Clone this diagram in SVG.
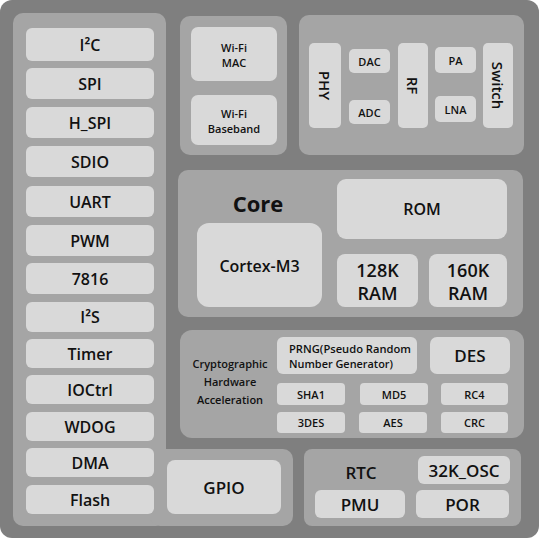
<svg xmlns="http://www.w3.org/2000/svg" width="539" height="538" viewBox="0 0 539 538">
<style>
.bg{fill:#7f7f7f}
.panel{fill:#a5a5a5}
.box{fill:#d9d9d9}
text{font-family:"Open Sans","Noto Sans",sans-serif;font-weight:600;fill:#111;text-anchor:middle;dominant-baseline:central}
.l{font-size:16px}
.m{font-size:11px}
.s{font-size:11px}
.xl{font-size:22px;font-weight:700}
.r{font-size:15px}
</style>
<rect class="bg" x="0" y="0" width="539" height="538" rx="12"/>
<g id="panels">
<rect class="panel" x="13" y="13" width="153" height="513" rx="10"/>
<rect class="panel" x="150" y="449" width="143" height="77" rx="10"/>
<rect class="panel" x="180" y="16" width="107" height="139" rx="10"/>
<rect class="panel" x="299" y="15" width="225" height="140" rx="10"/>
<rect class="panel" x="178" y="170" width="345" height="147" rx="10"/>
<rect class="panel" x="180" y="330" width="344" height="108" rx="12"/>
<rect class="panel" x="304" y="449" width="217" height="77" rx="8"/>
</g>
<g id="connectors"></g>
<g id="i2c"><rect class="box" x="26" y="28" width="128" height="33" rx="6"/><text class="l" x="90" y="44.5">I²C</text></g>
<g id="spi"><rect class="box" x="26" y="68" width="128" height="31" rx="6"/><text class="l" x="90" y="83.5">SPI</text></g>
<g id="hspi"><rect class="box" x="26" y="107" width="128" height="31" rx="6"/><text class="l" x="90" y="122.5">H_SPI</text></g>
<g id="sdio"><rect class="box" x="26" y="146" width="128" height="31" rx="6"/><text class="l" x="90" y="161.5">SDIO</text></g>
<g id="uart"><rect class="box" x="26" y="186" width="128" height="31" rx="6"/><text class="l" x="90" y="201.5">UART</text></g>
<g id="pwm"><rect class="box" x="26" y="225" width="128" height="31" rx="6"/><text class="l" x="90" y="240.5">PWM</text></g>
<g id="n7816"><rect class="box" x="26" y="263" width="128" height="31" rx="6"/><text class="l" x="90" y="278.5">7816</text></g>
<g id="i2s"><rect class="box" x="26" y="302" width="128" height="30" rx="6"/><text class="l" x="90" y="317">I²S</text></g>
<g id="timer"><rect class="box" x="26" y="339" width="128" height="29" rx="6"/><text class="l" x="90" y="353.5">Timer</text></g>
<g id="ioctrl"><rect class="box" x="26" y="375" width="128" height="29" rx="6"/><text class="l" x="90" y="389.5">IOCtrl</text></g>
<g id="wdog"><rect class="box" x="26" y="412" width="128" height="29" rx="6"/><text class="l" x="90" y="426.5">WDOG</text></g>
<g id="dma"><rect class="box" x="26" y="448" width="128" height="29" rx="6"/><text class="l" x="90" y="462.5">DMA</text></g>
<g id="flash"><rect class="box" x="26" y="485" width="128" height="29" rx="6"/><text class="l" x="90" y="499.5">Flash</text></g>

<g id="wifimac"><rect class="box" x="191" y="27" width="86" height="54" rx="7"/><text class="s" x="234" y="47">Wi-Fi</text><text class="s" x="234" y="62">MAC</text></g>
<g id="wifibb"><rect class="box" x="191" y="95" width="86" height="50" rx="7"/><text class="s" x="234" y="113">Wi-Fi</text><text class="s" x="234" y="128">Baseband</text></g>

<g id="phy"><rect class="box" x="309" y="43" width="32" height="85" rx="5"/><text class="r" transform="translate(325 85.5) rotate(90)">PHY</text></g>
<g id="dac"><rect class="box" x="349" y="49" width="41" height="24" rx="5"/><text class="s" x="369.5" y="61">DAC</text></g>
<g id="adc"><rect class="box" x="349" y="100" width="41" height="24" rx="5"/><text class="s" x="369.5" y="112">ADC</text></g>
<g id="rf"><rect class="box" x="398" y="43" width="30" height="85" rx="5"/><text class="r" transform="translate(413 85.5) rotate(90)">RF</text></g>
<g id="pa"><rect class="box" x="435" y="47" width="41" height="26" rx="5"/><text class="s" x="455.5" y="60">PA</text></g>
<g id="lna"><rect class="box" x="435" y="96" width="41" height="26" rx="5"/><text class="s" x="455.5" y="109">LNA</text></g>
<g id="switch"><rect class="box" x="483" y="43" width="30" height="85" rx="5"/><text class="r" transform="translate(498 85.5) rotate(90)">Switch</text></g>

<g id="core"><text class="xl" x="258" y="203">Core</text></g>
<g id="cortex"><rect class="box" x="197" y="223" width="125" height="84" rx="12"/><text class="l" x="259.5" y="266">Cortex-M3</text></g>
<g id="rom"><rect class="box" x="337" y="179" width="170" height="60" rx="9"/><text class="l" x="422" y="209">ROM</text></g>
<g id="ram128"><rect class="box" x="337" y="254" width="81" height="53" rx="8"/><text class="l" style="font-size:18px" x="377.5" y="270">128K</text><text class="l" style="font-size:18px" x="377.5" y="293">RAM</text></g>
<g id="ram160"><rect class="box" x="429" y="254" width="78" height="53" rx="8"/><text class="l" style="font-size:18px" x="468" y="270">160K</text><text class="l" style="font-size:18px" x="468" y="293">RAM</text></g>

<g id="crypto"><text class="s" x="230" y="363">Cryptographic</text><text class="s" x="230" y="381">Hardware</text><text class="s" x="230" y="399">Acceleration</text></g>
<g id="prng"><rect class="box" x="277" y="337" width="140" height="37" rx="6"/><text class="m" style="text-anchor:start" x="289" y="348.5" textLength="122" lengthAdjust="spacingAndGlyphs">PRNG(Pseudo Random</text><text class="m" style="text-anchor:start" x="289" y="363.5" textLength="104" lengthAdjust="spacingAndGlyphs">Number Generator)</text></g>
<g id="des"><rect class="box" x="430" y="337" width="80" height="37" rx="7"/><text class="l" style="font-size:17px" x="470" y="355.5">DES</text></g>
<g id="sha1"><rect class="box" x="277" y="383" width="68" height="22" rx="4"/><text class="s" x="311" y="394">SHA1</text></g>
<g id="md5"><rect class="box" x="360" y="383" width="68" height="22" rx="4"/><text class="s" x="394" y="394">MD5</text></g>
<g id="rc4"><rect class="box" x="441" y="383" width="67" height="22" rx="4"/><text class="s" x="474.5" y="394">RC4</text></g>
<g id="tdes"><rect class="box" x="277" y="412" width="68" height="21" rx="4"/><text class="s" x="311" y="422.5">3DES</text></g>
<g id="aes"><rect class="box" x="359" y="412" width="68" height="21" rx="4"/><text class="s" x="393" y="422.5">AES</text></g>
<g id="crc"><rect class="box" x="441" y="412" width="67" height="21" rx="4"/><text class="s" x="474.5" y="422.5">CRC</text></g>

<g id="gpio"><rect class="box" x="167" y="460" width="114" height="54" rx="8"/><text class="l" style="font-size:17px" x="224" y="487">GPIO</text></g>
<g id="rtc"><text class="l" style="font-size:17px" x="361" y="472">RTC</text></g>
<g id="osc"><rect class="box" x="418" y="456" width="92" height="28" rx="6"/><text class="l" style="font-size:17px" x="464" y="470">32K_OSC</text></g>
<g id="pmu"><rect class="box" x="315" y="490" width="90" height="28" rx="6"/><text class="l" style="font-size:17px" x="360" y="504">PMU</text></g>
<g id="por"><rect class="box" x="416" y="490" width="93" height="28" rx="6"/><text class="l" style="font-size:17px" x="462.5" y="504">POR</text></g>
</svg>
